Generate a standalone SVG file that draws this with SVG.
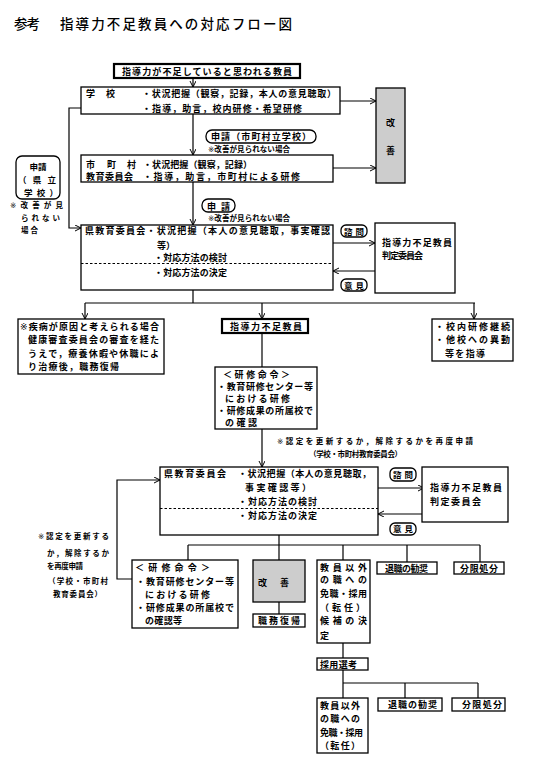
<svg xmlns="http://www.w3.org/2000/svg" width="546" height="767" viewBox="0 0 546 767">
<defs>
<style>
.bx{fill:#fff;stroke:#000;stroke-width:1.3}
.tk{stroke-width:2.2}
.gr{fill:#cdcdcd}
.ln{fill:none;stroke:#000;stroke-width:1.2}
.ar{marker-end:url(#ah)}
.ds{fill:none;stroke:#000;stroke-width:1;stroke-dasharray:2.5 2}
.t{font-family:"Noto Sans CJK JP","Noto Sans CJK SC",sans-serif;font-weight:bold;font-size:9px;fill:#000}
.s{font-family:"Noto Sans CJK JP","Noto Sans CJK SC",sans-serif;font-weight:bold;font-size:7.5px;fill:#000}
.km{font-family:"DejaVu Sans","Noto Sans CJK JP",sans-serif;font-weight:normal;fill:#000}
.l8{font-size:8.5px}
.h{font-family:"Noto Sans CJK JP","Noto Sans CJK SC",sans-serif;font-size:13.5px;font-weight:500;fill:#000}
</style>
<marker id="ah" markerUnits="userSpaceOnUse" markerWidth="8" markerHeight="8" refX="6" refY="3" orient="auto">
<path d="M0,0 L6,3 L0,6" fill="none" stroke="#000" stroke-width="1"/>
</marker>
</defs>
<rect width="546" height="767" fill="#fff"/>

<g id="title">
<text class="h" x="14" y="29" textLength="26">参考</text>
<text class="h" x="60" y="29" textLength="232">指導力不足教員への対応フロー図</text>
</g>

<g id="connectors">
<path class="ln ar" d="M193,78 V87"/>
<path class="ln ar" d="M193,114 V155"/>
<path class="ln ar" d="M193,182 V225"/>
<path class="ln ar" d="M340,101 H376"/>
<path class="ln ar" d="M333,168 H376"/>
<path class="ln ar" d="M81,108 H69 V228 H81"/>
<path class="ln ar" d="M333,243 H375"/>
<path class="ln ar" d="M375,271 H333"/>
<path class="ln" d="M193,290 V303 M85,303 H475"/>
<path class="ln ar" d="M85,303 V319"/>
<path class="ln ar" d="M262,303 V319"/>
<path class="ln ar" d="M474,303 V319"/>
<path class="ln" d="M262,333 V367"/>
<path class="ln ar" d="M262,429 V467"/>
<path class="ln ar" d="M378,488 H424"/>
<path class="ln ar" d="M424,514 H378"/>
<path class="ln ar" d="M132,579 H117 V480 H160"/>
<path class="ln" d="M279,535 V560 M188,545 H480 M188,545 V560 M343,545 V560 M407,545 V562 M480,545 V562"/>
<path class="ln" d="M279,602 V614"/>
<path class="ln" d="M343,643 V658 M343,670 V698 M343,683 H478 M405,683 V698 M478,683 V698"/>
</g>

<g id="n-top">
<rect class="bx tk" x="114" y="64" width="186" height="14"/>
<text class="t" x="122" y="74.5" textLength="170">指導力が不足していると思われる教員</text>
</g>

<g id="n-school">
<rect class="bx" x="81" y="87" width="259" height="27"/>
<text class="t" x="86" y="96.5">学</text>
<text class="t" x="106" y="96.5">校</text>
<text class="t" x="142" y="96.5" textLength="194">・状況把握（観察，記録，本人の意見聴取）</text>
<text class="t" x="142" y="111.5" textLength="160">・指導，助言，校内研修・希望研修</text>
</g>

<g id="lbl-shinsei1">
<rect class="bx" x="206" y="130" width="110" height="13" rx="6"/>
<text class="t" x="211" y="140" textLength="100">申請（市町村立学校）</text>
<text class="s" x="208" y="152" textLength="82"><tspan class="km">※</tspan>改善が見られない場合</text>
</g>

<g id="n-kaizen1">
<rect class="bx gr" x="376" y="88" width="29" height="95"/>
<text class="t" x="390.5" y="126" text-anchor="middle">改</text>
<text class="t" x="390.5" y="154" text-anchor="middle">善</text>
</g>

<g id="n-city">
<rect class="bx" x="81" y="155" width="252" height="27"/>
<text class="t" x="86" y="167.5">市</text>
<text class="t" x="107" y="167.5">町</text>
<text class="t" x="127" y="167.5">村</text>
<text class="t" x="143" y="167.5" textLength="109">・状況把握（観察，記録）</text>
<text class="t" x="86" y="180" textLength="47">教育委員会</text>
<text class="t" x="143" y="180" textLength="157">・指導，助言，市町村による研修</text>
</g>

<g id="lbl-pref-school">
<rect class="bx" x="16" y="156" width="44" height="43" rx="6"/>
<text class="t l8" x="38" y="169.5" text-anchor="middle">申請</text>
<text class="t l8" x="18" y="182.5" textLength="38">（県立</text>
<text class="t l8" x="24" y="195.5" textLength="34">学校）</text>
<text class="s" x="10" y="208" textLength="53"><tspan class="km">※</tspan>改善が見</text>
<text class="s" x="21" y="220.5" textLength="39">られない</text>
<text class="s" x="21" y="233" textLength="17">場合</text>
</g>

<g id="lbl-shinsei2">
<rect class="bx" x="202" y="199" width="33" height="13" rx="6"/>
<text class="t" x="207" y="209.5" textLength="23">申請</text>
<text class="s" x="208" y="221" textLength="82"><tspan class="km">※</tspan>改善が見られない場合</text>
</g>

<g id="n-pref1">
<rect class="bx" x="81" y="225" width="252" height="65"/>
<text class="t" x="85" y="234" textLength="245">県教育委員会・状況把握（本人の意見聴取，事実確認</text>
<text class="t" x="157" y="248.5">等）</text>
<text class="t" x="154" y="261" textLength="73">・対応方法の検討</text>
<line class="ds" x1="81" y1="263.5" x2="333" y2="263.5"/>
<text class="t" x="154" y="275.5" textLength="73">・対応方法の決定</text>
</g>

<g id="lbl-shimon1">
<rect class="bx" x="341" y="225" width="26" height="12" rx="5"/>
<text class="t l8" x="344" y="234.5" textLength="20">諮問</text>
</g>
<g id="lbl-iken1">
<rect class="bx" x="341" y="279" width="26" height="12" rx="5"/>
<text class="t l8" x="344" y="288.5" textLength="20">意見</text>
</g>

<g id="n-judge1">
<rect class="bx" x="375" y="223" width="80" height="70"/>
<text class="t" x="382" y="246" textLength="70">指導力不足教員</text>
<text class="t" x="382" y="258.5" textLength="41">判定委員会</text>
</g>

<g id="n-illness">
<rect class="bx" x="18" y="319" width="146" height="55"/>
<text class="t" x="20" y="329.5" textLength="139"><tspan class="km">※</tspan>疾病が原因と考えられる場合</text>
<text class="t" x="28" y="343" textLength="131">健康審査委員会の審査を経た</text>
<text class="t" x="28" y="356.5" textLength="131">うえで，療養休暇や休職によ</text>
<text class="t" x="28" y="369.5" textLength="91">り治療後，職務復帰</text>
</g>

<g id="n-lack">
<rect class="bx tk" x="222" y="319" width="86" height="14"/>
<text class="t" x="230" y="329.5" textLength="72">指導力不足教員</text>
</g>

<g id="n-continue">
<rect class="bx" x="432" y="319" width="81" height="42"/>
<text class="t" x="435" y="329.5" textLength="75">・校内研修継続</text>
<text class="t" x="435" y="343" textLength="75">・他校への異動</text>
<text class="t" x="445" y="356.5" textLength="40">等を指導</text>
</g>

<g id="n-order1">
<rect class="bx" x="215" y="367" width="102" height="62"/>
<text class="t" x="223" y="378" textLength="67">＜研修命令＞</text>
<text class="t" x="217" y="390" textLength="96">・教育研修センター等</text>
<text class="t" x="225" y="402" textLength="65">における研修</text>
<text class="t" x="217" y="414" textLength="96">・研修成果の所属校で</text>
<text class="t" x="225" y="425.5" textLength="32">の確認</text>
</g>

<g id="note-renew1">
<text class="s" x="277" y="444" textLength="196"><tspan class="km">※</tspan>認定を更新するか，解除するかを再度申請</text>
<text class="s" x="309" y="457" textLength="93">（学校・市町村教育委員会）</text>
</g>

<g id="n-pref2">
<rect class="bx" x="160" y="467" width="218" height="68"/>
<text class="t" x="164" y="477" textLength="62">県教育委員会</text>
<text class="t" x="238" y="477" textLength="133">・状況把握（本人の意見聴取，</text>
<text class="t" x="245" y="491" textLength="66">事実確認等）</text>
<text class="t" x="238" y="504.5" textLength="79">・対応方法の検討</text>
<line class="ds" x1="160" y1="508.5" x2="378" y2="508.5"/>
<text class="t" x="238" y="519" textLength="79">・対応方法の決定</text>
</g>

<g id="lbl-shimon2">
<rect class="bx" x="390" y="468" width="26" height="13" rx="5"/>
<text class="t l8" x="393" y="478" textLength="20">諮問</text>
</g>
<g id="lbl-iken2">
<rect class="bx" x="390" y="523" width="26" height="12" rx="5"/>
<text class="t l8" x="393" y="532" textLength="20">意見</text>
</g>

<g id="n-judge2">
<rect class="bx" x="422" y="467" width="86" height="55"/>
<text class="t" x="430" y="491" textLength="72">指導力不足教員</text>
<text class="t" x="430" y="504.5" textLength="51">判定委員会</text>
</g>

<g id="note-renew2">
<text class="s" x="38" y="539" textLength="71"><tspan class="km">※</tspan>認定を更新する</text>
<text class="s" x="47" y="556" textLength="62">か，解除するか</text>
<text class="s" x="47" y="569" textLength="36">を再度申請</text>
<text class="s" x="48" y="584" textLength="60">（学校・市町村</text>
<text class="s" x="53" y="597" textLength="49">教育委員会）</text>
</g>

<g id="n-order2">
<rect class="bx" x="132" y="560" width="106" height="68"/>
<text class="t" x="135" y="570.5" textLength="75">＜研修命令＞</text>
<text class="t" x="136" y="585" textLength="98">・教育研修センター等</text>
<text class="t" x="145" y="597.5" textLength="65">における研修</text>
<text class="t" x="136" y="610.5" textLength="98">・研修成果の所属校で</text>
<text class="t" x="145" y="623.5" textLength="37">の確認等</text>
</g>

<g id="n-kaizen2">
<rect class="bx gr" x="253" y="560" width="52" height="42"/>
<text class="t" x="258" y="585.5">改</text>
<text class="t" x="280" y="585.5">善</text>
</g>

<g id="n-return">
<rect class="bx" x="253" y="614" width="52" height="13"/>
<text class="t" x="258" y="624" textLength="42">職務復帰</text>
</g>

<g id="n-other1">
<rect class="bx" x="317" y="560" width="53" height="83"/>
<text class="t" x="320" y="570.5" textLength="47">教員以外</text>
<text class="t" x="320" y="583" textLength="47">の職への</text>
<text class="t" x="320" y="596.5" textLength="47">免職・採用</text>
<text class="t" x="320" y="610.5" textLength="45">（転任）</text>
<text class="t" x="320" y="623.5" textLength="47">候補の決</text>
<text class="t" x="320" y="638.5">定</text>
</g>

<g id="n-retire1">
<rect class="bx" x="377" y="562" width="60" height="12"/>
<text class="t" x="385" y="571.5" textLength="43">退職の勧奨</text>
</g>

<g id="n-dismiss1">
<rect class="bx" x="454" y="562" width="50" height="12"/>
<text class="t" x="460" y="571.5" textLength="38">分限処分</text>
</g>

<g id="n-select">
<rect class="bx" x="317" y="658" width="51" height="12"/>
<text class="t" x="320" y="667.5" textLength="37">採用選考</text>
</g>

<g id="n-other2">
<rect class="bx" x="317" y="698" width="51" height="55"/>
<text class="t" x="320" y="708.5" textLength="40">教員以外</text>
<text class="t" x="320" y="722" textLength="40">の職への</text>
<text class="t" x="320" y="735.5" textLength="43">免職・採用</text>
<text class="t" x="320" y="749" textLength="40">（転任）</text>
</g>

<g id="n-retire2">
<rect class="bx" x="378" y="698" width="64" height="13"/>
<text class="t" x="388" y="708" textLength="49">退職の勧奨</text>
</g>

<g id="n-dismiss2">
<rect class="bx" x="452" y="698" width="53" height="13"/>
<text class="t" x="462" y="708" textLength="40">分限処分</text>
</g>
</svg>
